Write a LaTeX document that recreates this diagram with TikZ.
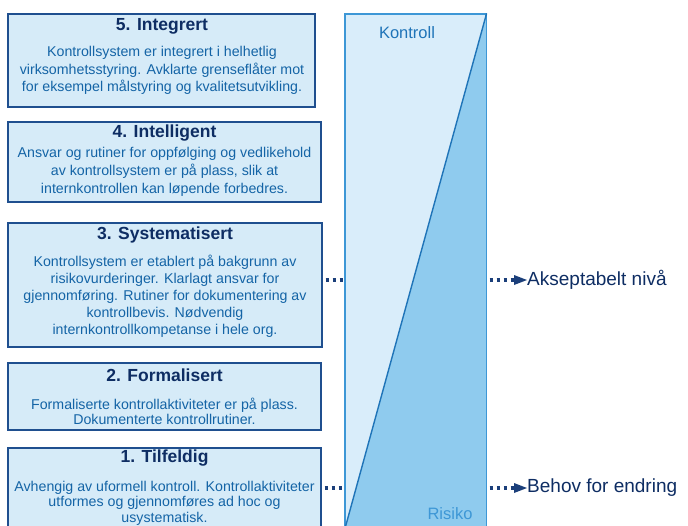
\documentclass[tikz,border=0pt]{standalone}
\usepackage{fontspec}
\setmainfont{Liberation Sans}
\usetikzlibrary{arrows.meta}
\definecolor{boxfill}{HTML}{D6EBF8}
\definecolor{boxline}{HTML}{1F4F8F}
\definecolor{titlecol}{HTML}{0E2D63}
\definecolor{bodycol}{HTML}{1464A6}
\definecolor{barlight}{HTML}{D9EDFA}
\definecolor{bardark}{HTML}{8FCBEE}
\definecolor{barline}{HTML}{3D97D6}
\definecolor{diagcol}{HTML}{1F74B8}
\definecolor{dotcol}{HTML}{1B3F7A}
\tikzset{
  levelbox/.style={draw=boxline, fill=boxfill, line width=1.3pt, inner sep=0pt},
  leveltitle/.style={text=titlecol, inner sep=0pt, font=\bfseries\fontsize{17.5}{20}\selectfont},
  levelbody/.style={text=bodycol, inner sep=0pt, align=center},
  dotline/.style={draw=dotcol, line width=3.6pt, dash pattern=on 3.6pt off 3.4pt},
  sidelabel/.style={text=titlecol, inner sep=0pt, anchor=west, font=\fontsize{19}{22}\selectfont}
}
\begin{document}
\begin{tikzpicture}[x=1pt,y=-1pt]
\clip (0,0) rectangle (688,525);
\fill[white] (0,0) rectangle (688,525);

% maturity level boxes
\node[levelbox, minimum width=307pt, minimum height=93pt] (b5) at (161.5,60.5) {};
\node[levelbox, minimum width=313pt, minimum height=80pt] (b4) at (164.5,162) {};
\node[levelbox, minimum width=314pt, minimum height=124pt] (b3) at (165,285) {};
\node[levelbox, minimum width=313pt, minimum height=67pt] (b2) at (164.5,396.5) {};
\node[levelbox, minimum width=313pt, minimum height=100pt] (b1) at (164.5,498) {};

\node[leveltitle] (t5) at (162,26) {5. Integrert};
\node[levelbody, font=\fontsize{14.2}{17.5}\selectfont] (d5) at (162,70.5)
  {Kontrollsystem er integrert i helhetlig\\virksomhetsstyring. Avklarte grenseflåter mot\\for eksempel målstyring og kvalitetsutvikling.};

\node[leveltitle] (t4) at (164.5,133) {4. Intelligent};
\node[levelbody, font=\fontsize{14.2}{18}\selectfont] (d4) at (164.5,172)
  {Ansvar og rutiner for oppfølging og vedlikehold\\av kontrollsystem er på plass, slik at\\internkontrollen kan løpende forbedres.};

\node[leveltitle] (t3) at (165,235) {3. Systematisert};
\node[levelbody, font=\fontsize{14.2}{17}\selectfont] (d3) at (165,296)
  {Kontrollsystem er etablert på bakgrunn av\\risikovurderinger. Klarlagt ansvar for\\gjennomføring. Rutiner for dokumentering av\\kontrollbevis. Nødvendig\\internkontrollkompetanse i hele org.};

\node[leveltitle] (t2) at (164.5,375) {2. Formalisert};
\node[levelbody, font=\fontsize{14.2}{15}\selectfont] (d2) at (164.5,411)
  {Formaliserte kontrollaktiviteter er på plass.\\Dokumenterte kontrollrutiner.};

\node[leveltitle] (t1) at (164.5,458) {1. Tilfeldig};
\node[levelbody, font=\fontsize{14.2}{15.5}\selectfont] (d1) at (164.5,503)
  {Avhengig av uformell kontroll. Kontrollaktiviteter\\utformes og gjennomføres ad hoc og\\usystematisk.};

% control / risk bar
\node[draw=barline, fill=barlight, line width=1.2pt, minimum width=141pt, minimum height=516pt, inner sep=0pt] (bar) at (415.5,272) {};
\fill[bardark] (bar.north east) -- (bar.south east) -- (bar.south west) -- cycle;
\draw[barline, line width=1.2pt] (bar.north east) -- (bar.south east);
\draw[diagcol, line width=1.4pt] (bar.north east) -- (bar.south west);
\node[text=diagcol, inner sep=0pt, font=\fontsize{16.5}{19}\selectfont] (kon) at (407,33) {Kontroll};
\node[text=barline, inner sep=0pt, font=\fontsize{16.5}{19}\selectfont] (ris) at (450,514) {Risiko};

% level markers
\node[sidelabel] (acc) at (527,280) {Akseptabelt nivå};
\node[sidelabel] (beh) at (527,488) {Behov for endring};

\draw[dotline] ([xshift=3pt]b3.east |- acc.west) -- (bar.west |- acc.west);
\draw[dotline] ([xshift=3pt]b1.east |- beh.west) -- (bar.west |- beh.west);
\draw[dotline] ([xshift=3pt]bar.east |- acc.west) -- ([xshift=-12pt]acc.west);
\draw[dotline] ([xshift=3pt]bar.east |- beh.west) -- ([xshift=-12pt]beh.west);
\fill[dotcol] ([xshift=-13pt,yshift=-5pt]acc.west) -- (acc.west) -- ([xshift=-13pt,yshift=5pt]acc.west) -- cycle;
\fill[dotcol] ([xshift=-13pt,yshift=-5pt]beh.west) -- (beh.west) -- ([xshift=-13pt,yshift=5pt]beh.west) -- cycle;
\end{tikzpicture}
\end{document}
